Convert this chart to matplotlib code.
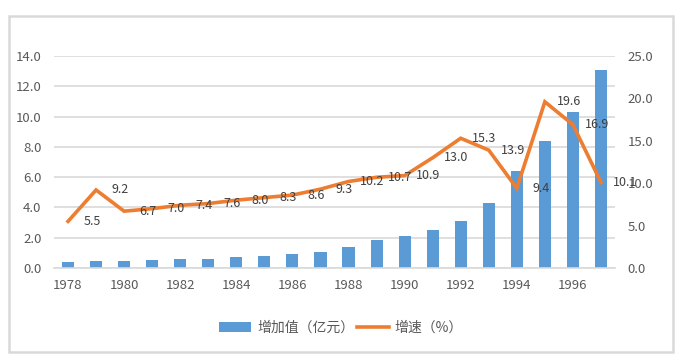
import matplotlib
matplotlib.use('Agg')
import matplotlib.pyplot as plt
from matplotlib.patches import Rectangle

plt.rcParams['font.family'] = ['Noto Sans CJK SC', 'DejaVu Sans']

years = list(range(1978, 1998))
added_value = [0.40, 0.48, 0.48, 0.55, 0.60, 0.60, 0.75, 0.80, 0.92, 1.06,
               1.39, 1.85, 2.10, 2.50, 3.10, 4.30, 6.40, 8.40, 10.30, 13.10]
growth = [5.5, 9.2, 6.7, 7.0, 7.4, 7.6, 8.0, 8.3, 8.6, 9.3,
          10.2, 10.7, 10.9, 13.0, 15.3, 13.9, 9.4, 19.6, 16.9, 10.1]
xtick_labels = [str(y) for y in range(1978, 1998, 2)]

W, H = 681, 364
fig = plt.figure(figsize=(W / 100, H / 100), dpi=100)

# outer chart border
fig.patches.append(Rectangle((9 / W, 1 - 352 / H), (673 - 9) / W, (352 - 16) / H,
                             transform=fig.transFigure, fill=False,
                             edgecolor='#D9D9D9', linewidth=1.8))

ax = fig.add_axes([54 / W, (H - 268) / H, (615 - 54) / W, 212 / H])
ax2 = ax.twinx()

x = list(range(len(years)))
ax.bar(x, added_value, width=0.43, color='#5B9BD5', label='增加值（亿元）', zorder=2)
ax2.plot(x, growth, color='#ED7D31', linewidth=2.6, label='增速（%）',
         solid_joinstyle='miter', zorder=3)

# data labels (shifted one category right, as in the source chart)
for i, v in enumerate(growth):
    ax2.annotate(f'{v:.1f}', (i + 1, v), xytext=(-3, 0), textcoords='offset points',
                 ha='center', va='center', fontsize=9, color='#404040',
                 annotation_clip=False)

ax.set_xlim(-0.5, len(years) - 0.5)
ax.set_ylim(0, 14)
ax2.set_ylim(0, 25)
ax.set_yticks([i * 2 for i in range(8)])
ax.set_yticklabels([f'{i * 2:.1f}' for i in range(8)])
ax2.set_yticks([i * 5 for i in range(6)])
ax2.set_yticklabels([f'{i * 5:.1f}' for i in range(6)])
ax.set_xticks(x[::2])
ax.set_xticklabels(xtick_labels)

ax.grid(axis='y', color='#D9D9D9', linewidth=1.2, zorder=0)
ax.set_axisbelow(True)
for a in (ax, ax2):
    for s in a.spines.values():
        s.set_visible(False)
    a.tick_params(length=0, labelsize=9.5, colors='#595959')
ax.spines['bottom'].set_visible(True)
ax.spines['bottom'].set_color('#D9D9D9')
ax.spines['bottom'].set_linewidth(1.2)
ax.tick_params(axis='x', pad=8)
ax.tick_params(axis='y', pad=9)
ax2.tick_params(axis='y', pad=9)

h1, l1 = ax.get_legend_handles_labels()
h2, l2 = ax2.get_legend_handles_labels()
fig.legend(h1 + h2, l1 + l2, loc='center', bbox_to_anchor=(341 / W, (H - 328) / H),
           ncol=2, frameon=False, fontsize=10, handlelength=2.3,
           columnspacing=0.2, handletextpad=0.4, labelcolor='#595959')

fig.savefig('out.png', dpi=100)
